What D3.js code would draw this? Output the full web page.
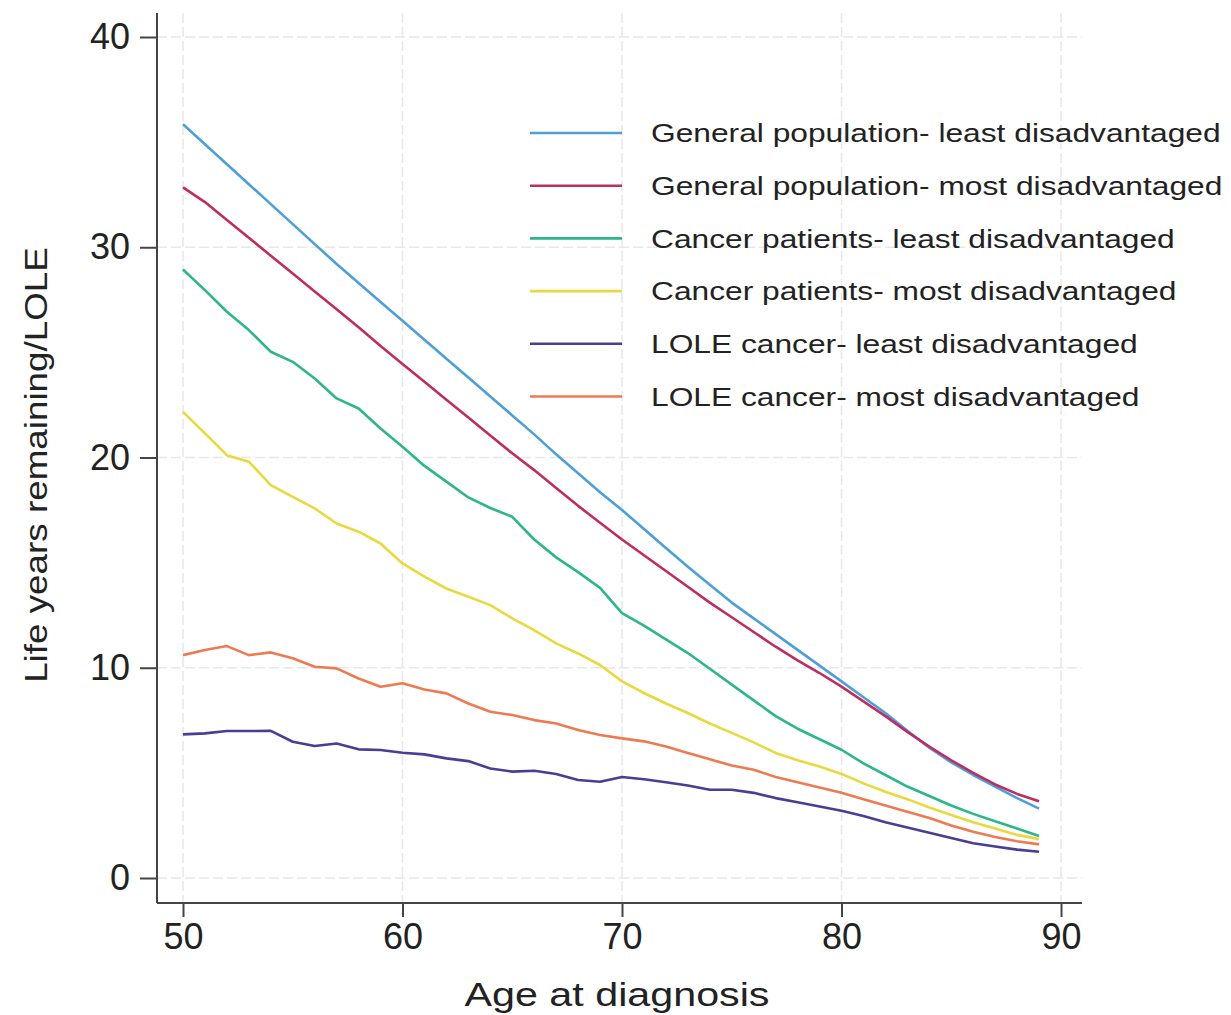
<!DOCTYPE html>
<html>
<head>
<meta charset="utf-8">
<script src="https://cdn.jsdelivr.net/npm/d3@7/dist/d3.min.js"></script>
<style>
  body { margin: 0; background: #fff; }
  svg { display: block; font-family: Arial, "Liberation Sans", sans-serif; }
</style>
</head>
<body>
<svg id="chart" width="1231" height="1015"></svg>
<script>
// ages at diagnosis
const ages = [50, 51, 52, 53, 54, 55, 56, 57, 58, 59,
              60, 61, 62, 63, 64, 65, 66, 67, 68, 69,
              70, 71, 72, 73, 74, 75, 76, 77, 78, 79,
              80, 81, 82, 83, 84, 85, 86, 87, 88, 89];

const gpLeast = [35.85, 34.9, 33.95, 33.0, 32.05, 31.1, 30.15, 29.2, 28.3, 27.4,
                 26.5, 25.6, 24.7, 23.8, 22.9, 22.0, 21.1, 20.15, 19.25, 18.35,
                 17.5, 16.6, 15.7, 14.8, 13.95, 13.1, 12.35, 11.6, 10.85, 10.1,
                 9.35, 8.6, 7.85, 7.0, 6.2, 5.5, 4.9, 4.35, 3.8, 3.3];

const gpMost = [32.85, 32.15, 31.3, 30.45, 29.6, 28.75, 27.9, 27.05, 26.2, 25.3,
                24.45, 23.6, 22.75, 21.9, 21.05, 20.2, 19.4, 18.55, 17.7, 16.9,
                16.1, 15.35, 14.6, 13.85, 13.1, 12.4, 11.7, 11.0, 10.35, 9.75,
                9.1, 8.4, 7.7, 6.95, 6.25, 5.6, 5.0, 4.45, 4.0, 3.65];

const cancerLeast = [28.94, 27.96, 26.93, 26.06, 25.03, 24.55, 23.76, 22.81, 22.33, 21.38,
                     20.51, 19.6, 18.85, 18.1, 17.6, 17.18, 16.1, 15.25, 14.55, 13.8,
                     12.6, 12.0, 11.35, 10.7, 9.95, 9.2, 8.45, 7.7, 7.1, 6.6,
                     6.1, 5.45, 4.9, 4.35, 3.9, 3.45, 3.05, 2.7, 2.35, 2.0];

const cancerMost = [22.17, 21.15, 20.11, 19.8, 18.69, 18.13, 17.58, 16.86, 16.47, 15.91,
                    14.96, 14.33, 13.77, 13.38, 12.98, 12.35, 11.79, 11.16, 10.68, 10.13,
                    9.35, 8.8, 8.3, 7.85, 7.35, 6.9, 6.45, 5.95, 5.6, 5.3,
                    4.95, 4.5, 4.1, 3.75, 3.35, 3.0, 2.65, 2.35, 2.05, 1.85];

const loleLeast = [6.83, 6.88, 6.99, 6.99, 7.0, 6.48, 6.28, 6.4, 6.12, 6.09,
                   5.96, 5.88, 5.69, 5.56, 5.21, 5.06, 5.1, 4.95, 4.66, 4.58,
                   4.8, 4.7, 4.55, 4.4, 4.2, 4.2, 4.05, 3.8, 3.6, 3.4,
                   3.2, 2.95, 2.65, 2.4, 2.15, 1.9, 1.65, 1.5, 1.35, 1.25];

const loleMost = [10.6, 10.84, 11.03, 10.6, 10.73, 10.45, 10.05, 9.97, 9.49, 9.1,
                  9.26, 8.97, 8.78, 8.3, 7.91, 7.75, 7.51, 7.35, 7.04, 6.8,
                  6.64, 6.5, 6.25, 5.95, 5.65, 5.35, 5.15, 4.8, 4.55, 4.3,
                  4.05, 3.75, 3.45, 3.15, 2.85, 2.5, 2.2, 1.95, 1.75, 1.6];

const seriesLabels = ["General population- least disadvantaged",
                      "General population- most disadvantaged",
                      "Cancer patients- least disadvantaged",
                      "Cancer patients- most disadvantaged",
                      "LOLE cancer- least disadvantaged",
                      "LOLE cancer- most disadvantaged"];

const xTicks = [50, 60, 70, 80, 90];
const yTicks = [0, 10, 20, 30, 40];

const colors = ["#4d9fd8", "#be2d62", "#2db58b", "#e8d93e", "#4b3c94", "#ee7a52"];
const allSeries = [gpLeast, gpMost, cancerLeast, cancerMost, loleLeast, loleMost];

// layout
const box = { left: 157, right: 1082, top: 13, bottom: 903 };
const stretch = 1.22;   // text in the original is rendered wider than Arial

const svg = d3.select("#chart");

const x = d3.scaleLinear().domain([50, 90]).range([183, 1061]);
const y = d3.scaleLinear().domain([0, 40]).range([878, 37]);

function widen(sel, factor) {
  sel.each(function () {
    const len = this.getComputedTextLength();
    d3.select(this)
      .attr("textLength", len * factor)
      .attr("lengthAdjust", "spacingAndGlyphs");
  });
}

// grid
svg.append("g")
    .selectAll("line")
    .data(yTicks)
    .join("line")
    .attr("x1", box.left).attr("x2", box.right)
    .attr("y1", d => y(d)).attr("y2", d => y(d))
    .attr("stroke", "#e8e8e8")
    .attr("stroke-width", 1.5)
    .attr("stroke-dasharray", "10,4");

svg.append("g")
    .selectAll("line")
    .data(xTicks)
    .join("line")
    .attr("x1", d => x(d)).attr("x2", d => x(d))
    .attr("y1", box.top).attr("y2", box.bottom)
    .attr("stroke", "#e8e8e8")
    .attr("stroke-width", 1.5)
    .attr("stroke-dasharray", "10,4");

// Y axis
const yAxis = svg.append("g")
    .attr("transform", `translate(${box.left},0)`)
    .call(d3.axisLeft(y).tickValues(yTicks).tickSize(17).tickPadding(10));
yAxis.select(".domain").remove();
yAxis.append("line")
    .attr("y1", box.top).attr("y2", box.bottom)
    .attr("stroke", "#444").attr("stroke-width", 2);
yAxis.selectAll(".tick line").attr("stroke", "#444").attr("stroke-width", 2);
yAxis.selectAll(".tick text")
    .attr("fill", "#222")
    .style("font-size", "36px")
    .style("font-family", "Arial, 'Liberation Sans', sans-serif");

// X axis
const xAxis = svg.append("g")
    .attr("transform", `translate(0,${box.bottom})`)
    .call(d3.axisBottom(x).tickValues(xTicks).tickSize(14).tickPadding(6));
xAxis.select(".domain").remove();
xAxis.append("line")
    .attr("x1", box.left).attr("x2", box.right)
    .attr("stroke", "#444").attr("stroke-width", 2);
xAxis.selectAll(".tick line").attr("stroke", "#444").attr("stroke-width", 2);
xAxis.selectAll(".tick text")
    .attr("fill", "#222")
    .style("font-size", "36px")
    .style("font-family", "Arial, 'Liberation Sans', sans-serif");

// axis titles
svg.append("text")
    .attr("x", 617)
    .attr("y", 1006)
    .attr("text-anchor", "middle")
    .attr("fill", "#222")
    .style("font-size", "33px")
    .text("Age at diagnosis")
    .call(widen, 1.25);

svg.append("text")
    .attr("transform", `translate(47, 465) rotate(-90)`)
    .attr("text-anchor", "middle")
    .attr("fill", "#222")
    .style("font-size", "32px")
    .text("Life years remaining/LOLE")
    .call(widen, 1.15);

// lines
const line = d3.line()
    .x((d, i) => x(ages[i]))
    .y(d => y(d));

svg.append("g")
    .selectAll("path")
    .data(allSeries)
    .join("path")
    .attr("fill", "none")
    .attr("stroke", (d, i) => colors[i])
    .attr("stroke-width", 2.6)
    .attr("stroke-linejoin", "round")
    .attr("d", line);

// legend
const legend = svg.append("g");
const rows = legend.selectAll("g")
    .data(seriesLabels)
    .join("g")
    .attr("transform", (d, i) => `translate(0, ${133 + i * 52.7})`);

rows.append("line")
    .attr("x1", 530).attr("x2", 622)
    .attr("stroke", (d, i) => colors[i])
    .attr("stroke-width", 2.6);

rows.append("text")
    .attr("x", 651)
    .attr("dy", "0.35em")
    .attr("fill", "#222")
    .style("font-size", "26px")
    .text(d => d)
    .call(widen, stretch);
</script>
</body>
</html>
